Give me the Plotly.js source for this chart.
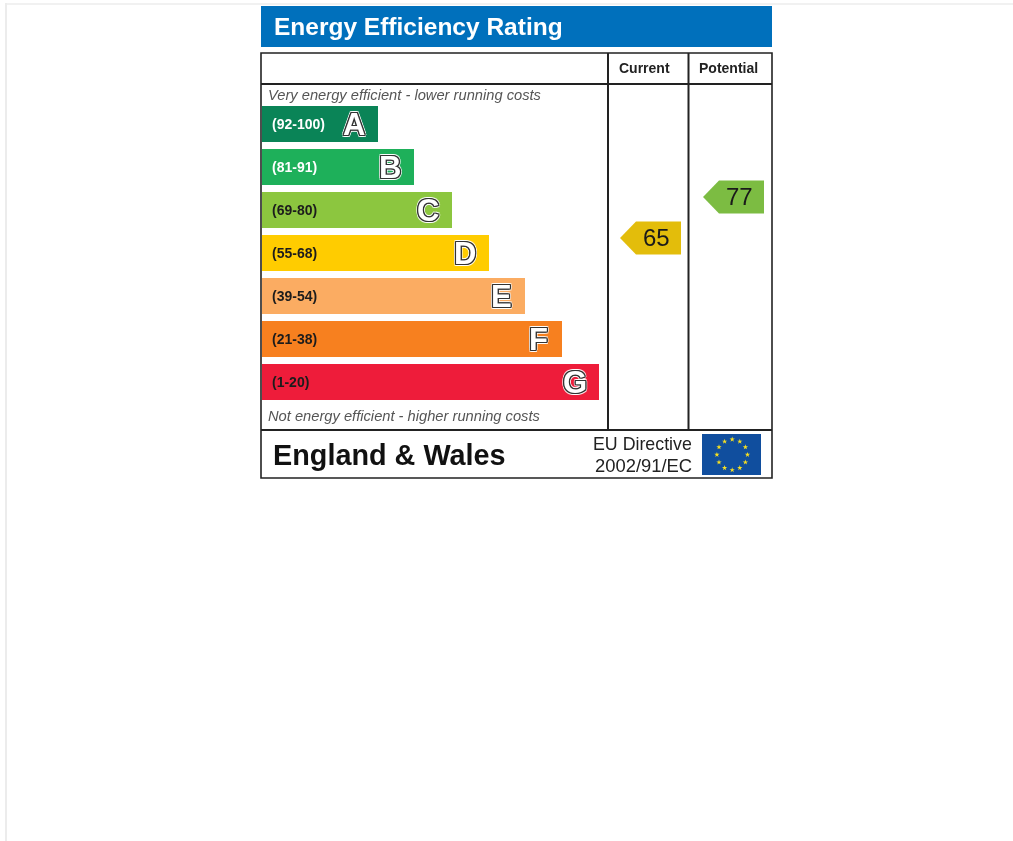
<!DOCTYPE html>
<html>
<head>
<meta charset="utf-8">
<script src="https://cdn.plot.ly/plotly-3.0.1.min.js"></script>
<style>html,body{margin:0;padding:0;background:#fff;overflow:hidden}#c{width:1013px;height:841px;filter:blur(0.45px)}</style>
</head>
<body>
<div id="c"></div>
<script>
// ---- data ----
const bandLetters = ['A','B','C','D','E','F','G'];
const bandRanges  = ['(92-100)','(81-91)','(69-80)','(55-68)','(39-54)','(21-38)','(1-20)'];
const bandLengths = [116,152,190,227,263,300,337];
const bandColors  = ['#0a8457','#1eb05a','#8cc63f','#ffcc00','#fbac62','#f7801f','#ee1c3a'];
const rangeColors = ['#ffffff','#ffffff','#1c1c1c','#1c1c1c','#1c1c1c','#1c1c1c','#1c1c1c'];
const ratingColumns = ['Current','Potential'];
const ratingValues  = [65,77];
const ratingColors  = ['#e3bd0b','#7cbc42'];
const euStarX = [0,7.6,13.2,15.3,13.2,7.6,0,-7.6,-13.2,-15.3,-13.2,-7.6];
const euStarY = [15.3,13.2,7.6,0,-7.6,-13.2,-15.3,-13.2,-7.6,0,7.6,13.2];

const W = 1013, H = 841;
const font = 'Liberation Sans, Arial, sans-serif';
const px = x => x / W;
const py = y => 1 - y / H;

const ink = '#333333';
const letterShadow = [[1.3,0],[-1.3,0],[0,1.3],[0,-1.3],[1,1],[-1,1],[1,-1],[-1,-1]]
  .map(o=>o[0]+'px '+o[1]+'px '+ink).concat(
  [[2.1,0],[-2.1,0],[0,2.1],[0,-2.1],[1.6,1.6],[-1.6,1.6],[1.6,-1.6],[-1.6,-1.6]]
  .map(o=>o[0]+'px '+o[1]+'px rgba(255,255,255,0.8)')).join(',');

const traces = [
  { type:'bar', orientation:'h', y:bandLetters, x:bandLengths, width:0.86,
    marker:{color:bandColors, line:{width:0}}, hoverinfo:'skip', showlegend:false },
  { type:'scatter', mode:'markers', xaxis:'x2', yaxis:'y2', x:ratingColumns, y:ratingValues,
    marker:{size:1, opacity:0}, hoverinfo:'skip', showlegend:false },
  { type:'scatter', mode:'markers', xaxis:'x3', yaxis:'y3', x:euStarX, y:euStarY,
    marker:{symbol:'star', size:4, color:'#f8e020', line:{width:0}}, hoverinfo:'skip', showlegend:false }
];

const frame = '#222222';
const rect = (x0,y0,x1,y1,fill,line,w) => ({type:'rect', xref:'paper', yref:'paper', layer:'below',
  x0:px(x0), x1:px(x1), y0:py(y0), y1:py(y1), fillcolor:fill,
  line:{color:line||'rgba(0,0,0,0)', width:line?(w||2):0}});
const seg = (x0,y0,x1,y1,c,w) => ({type:'line', xref:'paper', yref:'paper', layer:'below',
  x0:px(x0), x1:px(x1), y0:py(y0), y1:py(y1), line:{color:c||frame, width:w||2}});

const arrowPath = 'M 25 -16.5 L -20 -16.5 L -36 0 L -20 16.5 L 25 16.5 Z';
const shapes = [
  seg(6,3,6,841,'#ececec',2),
  seg(5,4,1013,4,'#ececec',1.5),
  rect(261,6,772,47,'#0070bc'),
  rect(261,53,772,478,'#ffffff',frame,1.6),
  seg(261,84,772,84),
  seg(261,430,772,430),
  seg(608,53,608,430),
  seg(688.5,53,688.5,430),
  rect(702,434,761,475,'#104e9e')
].concat(ratingValues.map((v,i)=>({
  type:'path', layer:'below', xref:'x2', yref:'y2', xsizemode:'pixel', ysizemode:'pixel',
  xanchor:i, yanchor:v, path:arrowPath, fillcolor:ratingColors[i], line:{width:0}
})));

const note = (t,x,y,size,opts) => Object.assign({
  xref:'paper', yref:'paper', x:px(x), y:py(y), text:t, showarrow:false,
  xanchor:'left', yanchor:'middle', borderpad:0, borderwidth:0,
  font:Object.assign({family:font, size:size, color:'#111'}, (opts&&opts.font)||{})
}, opts&&opts.a||{});

const annotations = [
  note('Energy Efficiency Rating',273.5,26.5,24.5,{font:{color:'#fff',weight:'bold'}}),
  note('Current',644.5,68,14,{font:{weight:'bold',color:'#222'},a:{xanchor:'center'}}),
  note('Potential',728.5,68,14,{font:{weight:'bold',color:'#222'},a:{xanchor:'center'}}),
  note('<i>Very energy efficient - lower running costs</i>',268,95,14.7,{font:{color:'#555'}}),
  note('<i>Not energy efficient - higher running costs</i>',268,415.5,14.7,{font:{color:'#555'}}),
  note('England &amp; Wales',273,455,28.8,{font:{weight:'bold',color:'#111'}}),
  note('EU Directive',692,444,17.8,{font:{color:'#222'},a:{xanchor:'right'}}),
  note('2002/91/EC',692,465,18.4,{font:{color:'#222'},a:{xanchor:'right'}})
].concat(bandLetters.map((b,i)=>({
  xref:'x', yref:'y', x:9, y:i, text:bandRanges[i], showarrow:false, xanchor:'left', yanchor:'middle',
  borderpad:0, font:{family:font, size:14, color:rangeColors[i], weight:'bold'}
}))).concat(bandLetters.map((b,i)=>({
  xref:'x', yref:'y', x:bandLengths[i]-24, y:i, text:b, showarrow:false, xanchor:'center', yanchor:'middle',
  borderpad:0, font:{family:font, size:31, color:'#ffffff', weight:'bold', shadow:letterShadow}
}))).concat(ratingValues.map((v,i)=>({
  xref:'x2', yref:'y2', x:i, y:v, text:String(v), showarrow:false, xanchor:'center', yanchor:'middle',
  yshift:0.5, borderpad:0, font:{family:font, size:24, color:'#1a1a1a'}
})));

const hidden = {visible:false, fixedrange:true, showgrid:false, zeroline:false};
const layout = {
  width:W, height:H, margin:{l:0,r:0,t:0,b:0,pad:0},
  paper_bgcolor:'#fff', plot_bgcolor:'rgba(0,0,0,0)', showlegend:false, hovermode:false, bargap:0,
  xaxis:Object.assign({}, hidden, {domain:[0,1], range:[-262,751]}),
  yaxis:Object.assign({}, hidden, {domain:[0,1], type:'category', categoryarray:bandLetters,
    range:[(H-124)/43, -124/43]}),
  xaxis2:Object.assign({}, hidden, {domain:[0,1], overlaying:'x', anchor:'y2', type:'category',
    categoryarray:ratingColumns, range:[-656/83,(W-656)/83]}),
  yaxis2:Object.assign({}, hidden, {domain:[0,1], overlaying:'y', anchor:'x2',
    range:[65-(H-238)/3.417, 65+238/3.417]}),
  xaxis3:Object.assign({}, hidden, {domain:[px(702),px(761)], anchor:'y3', range:[-30.2,28.8]}),
  yaxis3:Object.assign({}, hidden, {domain:[py(475),py(434)], anchor:'x3', range:[-20.3,20.7]}),
  shapes:shapes, annotations:annotations
};
Plotly.newPlot('c', traces, layout, {displayModeBar:false, staticPlot:true});
</script>
</body>
</html>
